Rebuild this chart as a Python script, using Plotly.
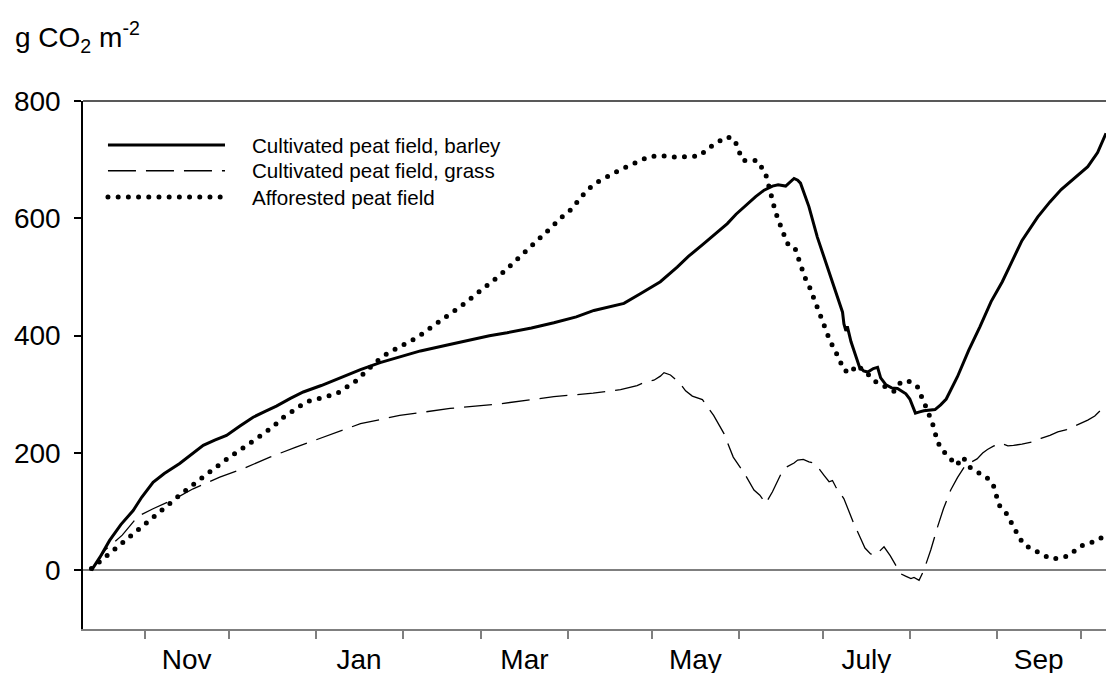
import pandas as pd
import plotly.graph_objects as go

# Season start; all series are given as days after this date
season_start = pd.Timestamp("2000-10-10")
season_end = pd.Timestamp("2001-10-10")

# Cumulative CO2 balance, g CO2 m-2
barley_days = [3, 6, 9.5, 13.5, 17.9, 21, 25, 29, 34.5, 39, 42.9, 47, 51.2, 56, 60.7, 65, 69, 74,
               78.6, 85, 92.9, 99, 106, 113, 120.4, 130, 139.4, 145, 151.3, 160, 168, 176, 182.3,
               188, 193, 199, 206, 212, 216, 221.5, 226, 229.9, 233, 237, 240, 243, 246, 248,
               250.7, 253.7, 255, 256, 259, 262, 265.6, 268, 269, 271, 271.5, 272.2, 272.7,
               273.5, 274, 277, 278.5, 280, 282, 283.5, 284.6, 286.5, 288.5, 290.6, 292.5, 293.6,
               295, 297, 298.5, 300, 304, 306, 308, 312, 316, 320, 324, 328, 331, 335, 340.6,
               345, 349, 353, 358.5, 362, 365]
barley_vals = [0, 22, 51, 78, 102, 125, 150, 165, 182, 199, 213, 222, 230, 246, 261, 271, 280, 293,
               304, 315, 331, 342, 354, 364, 374, 384, 394, 400, 405, 413, 422, 432, 443,
               450, 455, 472, 492, 517, 535, 557, 575, 591, 607, 625, 637, 648, 655, 657,
               655, 668, 665, 660, 620, 568, 517, 485, 472, 440, 420, 408, 416,
               398, 390, 347, 340, 338, 344, 346, 328, 316, 311, 310, 305, 301,
               292, 268, 270, 272, 274, 282, 292, 330, 375, 415, 458, 492, 522, 562, 602,
               628, 649, 666, 688, 712, 745]

grass_days = [3, 8, 14, 19.6, 25, 32, 39.3, 48.8, 57, 66.7, 76, 85.7, 92.9, 99, 113, 131, 149, 168,
              182, 191.8, 197.7, 201, 203.7, 206, 207.3, 209.6, 213, 215, 217.4, 219, 221, 225,
              228.7, 232, 236, 239.4, 241.5, 243.6, 246, 249, 251, 253.7, 255, 257, 259, 260.8,
              262.5, 264.4, 266.2, 267.4, 268.6, 271.5, 275, 277.5, 279, 281, 282.9, 284.5,
              285.8, 288, 291.8, 293.5, 295.4, 296.5, 298.3, 300, 302.5, 304.9, 307, 309.6, 312,
              314.4, 316, 319, 321, 322.7, 325, 327.5, 330, 332, 335, 339, 341.8, 345, 347.8,
              351, 353.7, 356, 358.5, 361, 363, 365.4]
grass_vals = [0, 35, 60, 92, 105, 120, 139, 159, 173, 193, 210, 227, 239, 250, 264, 276, 284, 296,
              302, 308, 315, 322, 324, 331, 337, 333, 319, 306, 297, 294, 291, 264,
              233, 193, 165, 137, 128, 114, 134, 164, 176, 183, 188, 189, 185, 183,
              174, 162, 151, 153, 142, 122, 80, 54, 38, 28, 26, 34,
              40, 25, -6, -10, -14, -12, -17, 0, 35, 74, 105, 137, 158,
              176, 182, 190, 200, 206, 212, 217, 212, 213, 215, 219, 225, 230, 236,
              240, 246, 250, 256, 263, 272, 284]

forest_days = [3, 6.5, 10, 13.7, 17.3, 20.8, 24.4, 28.2, 31.9, 35.5, 39, 42.9, 46.4, 50, 53.8, 57.4,
               61, 64.8, 68.5, 72, 75.7, 79.5, 83, 86.7, 90.5, 94, 97.7, 101.3, 105, 108.7, 112,
               116, 119.6, 123.3, 127, 130.6, 134.3, 138, 141.8, 145.4, 149, 152.6, 156.3, 159.9,
               163.6, 167.2, 170.8, 174.4, 177, 180, 183.6, 187.2, 191, 194.5, 198.2, 201.9,
               205.5, 209.2, 212.7, 216.4, 219.9, 223.3, 226.9, 229.5, 232.4, 234, 235.3, 238.5,
               240.4, 241.8, 243.3, 244.4, 245.5, 247, 248.6, 250, 251.3, 253.9, 255, 256, 257.6,
               259.3, 260.7, 261.8, 263.2, 264.7, 266.3, 268, 270, 271.2, 273.8, 276, 279.3,
               282.6, 286, 289.4, 292, 295, 297.7, 299, 300.8, 302.3, 303.7, 304.5, 306, 309,
               311.7, 314, 316, 319, 322.5, 324.8, 325.8, 326.9, 329.6, 331.4, 333.5, 335.6, 339,
               342, 345.4, 348.9, 352.3, 355, 358.5, 361.8, 365.4]
forest_vals = [3, 17, 31, 45, 60, 75, 90, 105, 119, 132, 145, 160, 172, 185, 198, 209,
               221, 234, 248, 263, 274, 287, 291, 295, 301, 312, 324, 341, 357, 370, 378,
               389, 398, 411, 425, 436, 448, 462, 476, 489, 504, 520, 536, 553,
               568, 585, 602, 616, 632, 649, 662, 672, 681, 689, 696, 705,
               707, 705, 704, 706, 706, 720, 731, 739, 735, 718, 699, 698,
               699, 689, 680, 661, 640, 612, 591, 572, 557, 551, 534, 517, 499,
               482, 464, 446, 429, 412, 394, 377, 359, 342, 336, 350, 338,
               322, 314, 305, 322, 322, 313, 296, 278, 260, 242, 225, 208, 193,
               179, 193, 177, 168, 158, 145, 128, 111, 96, 78, 61, 44, 35,
               27, 19, 21, 26, 39, 46, 50, 63]

series_names = ["Cultivated peat field, barley",
                "Cultivated peat field, grass",
                "Afforested peat field"]

month_labels = ["Nov", "Jan", "Mar", "May", "July", "Sep"]
month_label_pos = ["2000-11-16", "2001-01-16 12:00", "2001-03-16 12:00",
                   "2001-05-16 12:00", "2001-07-16 12:00", "2001-09-16"]
month_starts = ["2000-11-01", "2000-12-01", "2001-01-01", "2001-02-01", "2001-03-01",
                "2001-04-01", "2001-05-01", "2001-06-01", "2001-07-01", "2001-08-01",
                "2001-09-01", "2001-10-01"]
y_ticks = [0, 200, 400, 600, 800]

FONT = "Liberation Sans, Arial, sans-serif"
DOT_DASH = "0px,10.2px"
GRASS_DASH = "28px,10px"


def to_dates(days):
    return season_start + pd.to_timedelta(days, unit="D")


styles = [
    dict(color="black", width=3, dash="solid"),
    dict(color="black", width=1.3, dash=GRASS_DASH),
    dict(color="black", width=5, dash=DOT_DASH),
]

fig = go.Figure()
for name, days, vals, st in zip(series_names,
                                [barley_days, grass_days, forest_days],
                                [barley_vals, grass_vals, forest_vals],
                                styles):
    fig.add_trace(go.Scatter(x=to_dates(days), y=vals, mode="lines", name=name,
                             line=st, showlegend=False, hoverinfo="skip"))

# Legend drawn as sample lines plus labels in the upper-left corner
legend_y = [0.9166, 0.8679, 0.818]
for name, st, ly in zip(series_names, styles, legend_y):
    fig.add_shape(type="line", xref="paper", yref="paper", x0=0.0244, x1=0.1388,
                  y0=ly, y1=ly, line=dict(color="black", width=st["width"], dash=st["dash"]))
    fig.add_annotation(text=name, xref="paper", yref="paper", x=0.1632, y=ly,
                       xanchor="left", yanchor="middle", showarrow=False,
                       font=dict(family=FONT, size=20.6, color="black"))

# Frame line along the top of the plotting area
fig.add_shape(type="line", xref="paper", yref="paper", x0=0, x1=1, y0=1, y1=1,
              line=dict(color="#222222", width=1.5))

# Unit label above the y axis
fig.add_annotation(text="g CO<sub>2</sub> m<sup>-2</sup>", xref="paper", yref="paper",
                   x=-0.0684, y=1.122, xanchor="left", yanchor="middle", showarrow=False,
                   font=dict(family=FONT, size=28, color="black"))

fig.update_layout(
    width=1106, height=673,
    margin=dict(l=83, r=0, t=101, b=44.4, autoexpand=False),
    paper_bgcolor="white", plot_bgcolor="white",
    font=dict(family=FONT, color="black"),
    showlegend=False,
)
fig.update_xaxes(
    type="date", range=[season_start, season_end],
    tickmode="array", tickvals=month_label_pos, ticktext=month_labels,
    ticks="outside", ticklen=0, tickfont=dict(family=FONT, size=28, color="black"),
    ticklabelstandoff=5,
    minor=dict(tickmode="array", tickvals=month_starts, ticks="outside", ticklen=8,
               tickwidth=1.5, tickcolor="#7f7f7f", showgrid=False),
    showgrid=False, zeroline=False,
    showline=True, linecolor="#7f7f7f", linewidth=1.5,
)
fig.update_yaxes(
    range=[-100, 800], tickmode="array", tickvals=y_ticks,
    ticks="outside", ticklen=7, tickwidth=1.5, tickcolor="black",
    tickfont=dict(family=FONT, size=28, color="black"),
    ticklabelstandoff=8,
    showgrid=False,
    zeroline=True, zerolinecolor="#7f7f7f", zerolinewidth=2,
    showline=True, linecolor="black", linewidth=1.5,
)

# Dotted series: round line caps turn zero-length dashes into dots
post_script = """
var gd = document.getElementById('{plot_id}');
function roundDots() {
  gd.querySelectorAll('path').forEach(function (p) {
    var d = (p.style.strokeDasharray || p.getAttribute('stroke-dasharray') || '').trim();
    if (d.indexOf('0px') === 0 || d.indexOf('0,') === 0 || d.indexOf('0 ') === 0) {
      p.style.strokeLinecap = 'round';
    }
  });
}
roundDots();
gd.on('plotly_afterplot', roundDots);
"""

fig.write_html("out.html", post_script=post_script, config={"displayModeBar": False})
